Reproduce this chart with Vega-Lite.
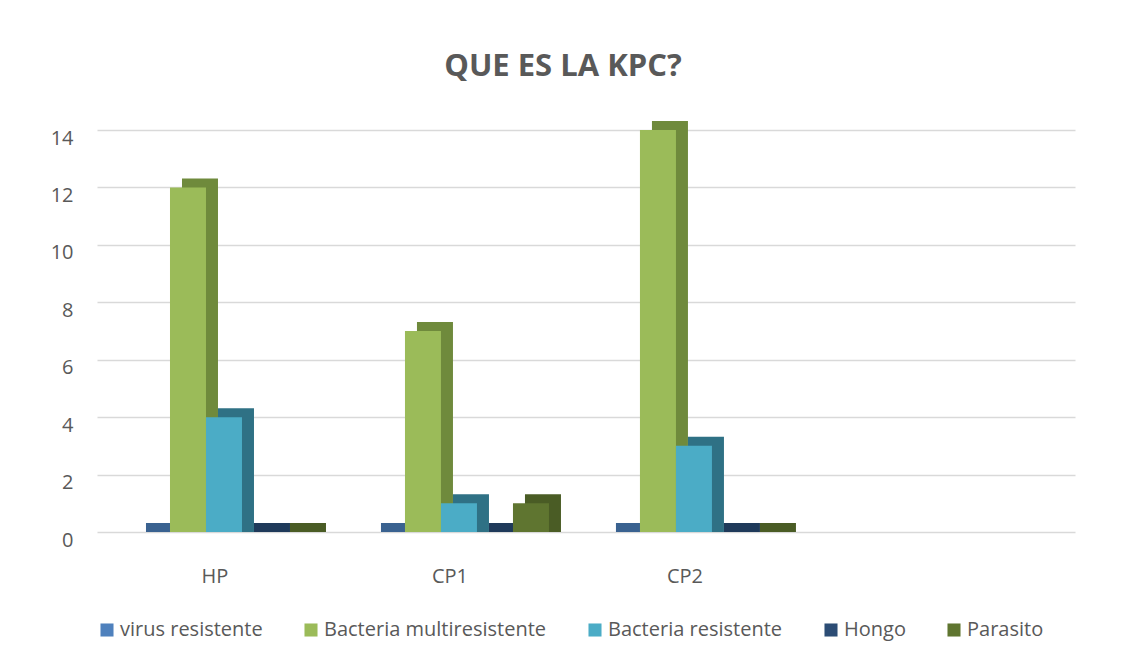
{
  "$schema": "https://vega.github.io/schema/vega-lite/v6.json",
  "width": 978,
  "height": 402,
  "autosize": {"type": "none"},
  "padding": {"left": 97, "top": 130, "right": 51, "bottom": 132},
  "background": "white",
  "title": {"text": "QUE ES LA KPC?", "fontSize": 31, "font": "Open Sans", "fontWeight": "bold", "color": "#595959", "anchor": "middle", "offset": 38, "dx": -23},
  "data": {"values": [
    {"grupo": "HP", "serie": "virus resistente", "valor": 0},
    {"grupo": "HP", "serie": "Bacteria multiresistente", "valor": 12},
    {"grupo": "HP", "serie": "Bacteria resistente", "valor": 4},
    {"grupo": "HP", "serie": "Hongo", "valor": 0},
    {"grupo": "HP", "serie": "Parasito", "valor": 0},
    {"grupo": "CP1", "serie": "virus resistente", "valor": 0},
    {"grupo": "CP1", "serie": "Bacteria multiresistente", "valor": 7},
    {"grupo": "CP1", "serie": "Bacteria resistente", "valor": 1},
    {"grupo": "CP1", "serie": "Hongo", "valor": 0},
    {"grupo": "CP1", "serie": "Parasito", "valor": 1},
    {"grupo": "CP2", "serie": "virus resistente", "valor": 0},
    {"grupo": "CP2", "serie": "Bacteria multiresistente", "valor": 14},
    {"grupo": "CP2", "serie": "Bacteria resistente", "valor": 3},
    {"grupo": "CP2", "serie": "Hongo", "valor": 0},
    {"grupo": "CP2", "serie": "Parasito", "valor": 0}
  ]},
  "encoding": {
    "x": {"field": "grupo", "type": "nominal", "title": null,
      "scale": {"domain": ["HP", "CP1", "CP2", ""], "paddingInner": 0.2, "paddingOuter": 0.181, "align": 0.282},
      "axis": {"labelAngle": 0, "labelFontSize": 20, "labelFont": "Open Sans", "labelColor": "#595959", "labelPadding": 34, "ticks": false, "domain": false, "grid": false}},
    "y": {"field": "valor", "type": "quantitative", "title": null,
      "scale": {"domain": [0, 14]},
      "axis": {"values": [0, 2, 4, 6, 8, 10, 12, 14], "labelFontSize": 20, "labelFont": "Open Sans", "labelColor": "#595959", "labelPadding": 24, "labelOffset": 8, "ticks": false, "domain": false, "gridColor": "#d9d9d9", "gridWidth": 1.3}}
  },
  "layer": [
    {
      "mark": {"type": "bar", "yOffset": -9, "y2Offset": 0},
      "encoding": {
        "y2": {"datum": 0},
        "xOffset": {"field": "serie", "type": "nominal",
          "scale": {"domain": ["virus resistente", "Bacteria multiresistente", "Bacteria resistente", "Hongo", "Parasito"], "range": [25, 205], "paddingInner": 0, "paddingOuter": 0}},
        "color": {"field": "serie", "type": "nominal", "legend": null,
          "scale": {"domain": ["virus resistente", "Bacteria multiresistente", "Bacteria resistente", "Hongo", "Parasito"],
            "range": ["#3a6290", "#6f8a3c", "#2f7185", "#1f3a5a", "#4a5c25"]}}
      }
    },
    {
      "mark": {"type": "bar"},
      "encoding": {
        "xOffset": {"field": "serie", "type": "nominal",
          "scale": {"domain": ["virus resistente", "Bacteria multiresistente", "Bacteria resistente", "Hongo", "Parasito"], "range": [13, 193], "paddingInner": 0, "paddingOuter": 0}},
        "color": {"field": "serie", "type": "nominal",
          "scale": {"domain": ["virus resistente", "Bacteria multiresistente", "Bacteria resistente", "Hongo", "Parasito"],
            "range": ["#4f81bd", "#9bbb59", "#4bacc6", "#2c4d75", "#5f7530"]},
          "legend": {"orient": "bottom", "direction": "horizontal", "title": null, "labelFontSize": 20, "labelFont": "Open Sans", "labelColor": "#595959", "labelLimit": 0, "symbolType": "square", "symbolSize": 170, "symbolStrokeWidth": 0, "columnPadding": 38, "offset": 34, "labelOffset": 3}}
      }
    }
  ],
  "resolve": {"scale": {"color": "independent", "xOffset": "independent"}},
  "config": {"view": {"stroke": null}}
}
